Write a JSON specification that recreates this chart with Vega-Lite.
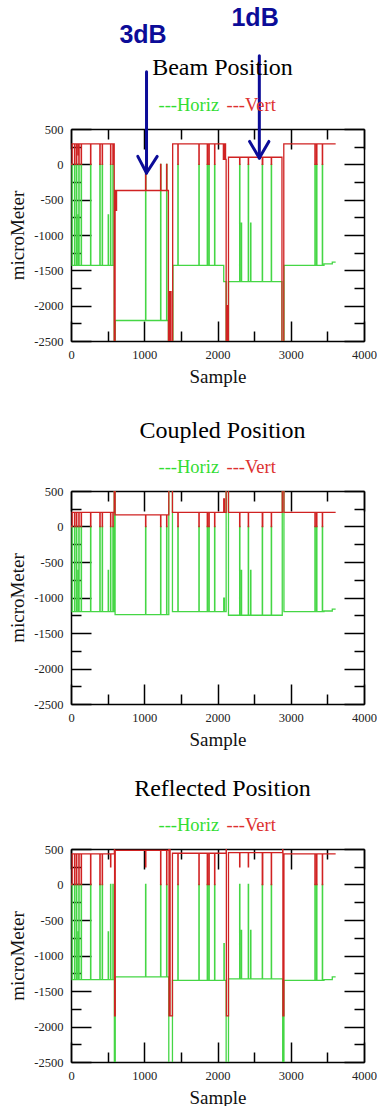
{
"$schema":"https://vega.github.io/schema/vega-lite/v6.json",
"background":"white",
"padding":{"left":8,"top":5,"right":2,"bottom":5},
"autosize":{"type":"pad"},
"spacing":32,
"config":{
 "view":{"stroke":null},
 "font":"Liberation Serif",
 "axis":{"labelFont":"Liberation Serif","labelFontSize":12.5,"labelColor":"#222","titleFont":"Liberation Serif","titleFontSize":19,"titleFontWeight":"normal","titleColor":"#111","domainColor":"black","domainWidth":1.5,"tickColor":"black","tickWidth":1.5,"grid":false,"labelFlush":false,"labelOverlap":false},
 "title":{"font":"Liberation Serif","fontSize":24,"fontWeight":"normal","color":"black","frame":"group","anchor":"middle","dx":5}
},
"datasets":{
"b":[
{"c":"Horiz","s":0,"v":0},{"c":"Horiz","s":16,"v":-1430},{"c":"Horiz","s":48,"v":0},{"c":"Horiz","s":52,"v":-1430},{"c":"Horiz","s":75,"v":0},{"c":"Horiz","s":79,"v":-1430},{"c":"Horiz","s":98,"v":-714},{"c":"Horiz","s":102,"v":-1430},{"c":"Horiz","s":107,"v":0},{"c":"Horiz","s":111,"v":-1430},{"c":"Horiz","s":139,"v":0},{"c":"Horiz","s":143,"v":-1430},{"c":"Horiz","s":267,"v":0},{"c":"Horiz","s":271,"v":-1430},{"c":"Horiz","s":394,"v":0},{"c":"Horiz","s":398,"v":-1430},{"c":"Horiz","s":426,"v":0},{"c":"Horiz","s":430,"v":-1430},{"c":"Horiz","s":508,"v":-714},{"c":"Horiz","s":512,"v":-1430},{"c":"Horiz","s":540,"v":0},{"c":"Horiz","s":544,"v":-1430},{"c":"Horiz","s":572,"v":0},{"c":"Horiz","s":576,"v":-1430},{"c":"Horiz","s":590,"v":-2600},{"c":"Horiz","s":604,"v":-2210},{"c":"Horiz","s":1018,"v":0},{"c":"Horiz","s":1022,"v":-2210},{"c":"Horiz","s":1223,"v":0},{"c":"Horiz","s":1227,"v":-2210},{"c":"Horiz","s":1305,"v":0},{"c":"Horiz","s":1309,"v":-2210},{"c":"Horiz","s":1330,"v":-2600},{"c":"Horiz","s":1392,"v":-1430},{"c":"Horiz","s":1459,"v":0},{"c":"Horiz","s":1463,"v":-1430},{"c":"Horiz","s":1746,"v":0},{"c":"Horiz","s":1750,"v":-1430},{"c":"Horiz","s":1860,"v":0},{"c":"Horiz","s":1864,"v":-1430},{"c":"Horiz","s":1883,"v":0},{"c":"Horiz","s":1887,"v":-1430},{"c":"Horiz","s":1960,"v":0},{"c":"Horiz","s":1964,"v":-1430},{"c":"Horiz","s":2085,"v":-1660},{"c":"Horiz","s":2118,"v":-2600},{"c":"Horiz","s":2150,"v":-1660},{"c":"Horiz","s":2302,"v":0},{"c":"Horiz","s":2306,"v":-1660},{"c":"Horiz","s":2325,"v":-832},{"c":"Horiz","s":2329,"v":-1660},{"c":"Horiz","s":2420,"v":0},{"c":"Horiz","s":2424,"v":-1660},{"c":"Horiz","s":2452,"v":-832},{"c":"Horiz","s":2456,"v":-1660},{"c":"Horiz","s":2611,"v":0},{"c":"Horiz","s":2615,"v":-1660},{"c":"Horiz","s":2734,"v":0},{"c":"Horiz","s":2738,"v":-1660},{"c":"Horiz","s":2880,"v":-2600},{"c":"Horiz","s":2908,"v":-1430},{"c":"Horiz","s":3330,"v":0},{"c":"Horiz","s":3334,"v":-1430},{"c":"Horiz","s":3353,"v":0},{"c":"Horiz","s":3357,"v":-1430},{"c":"Horiz","s":3431,"v":0},{"c":"Horiz","s":3435,"v":-1430},{"c":"Horiz","s":3454,"v":-1410},{"c":"Horiz","s":3567,"v":-1385},{"c":"Horiz","s":3613,"v":-1385},
{"c":"Vert","s":0,"v":0},{"c":"Vert","s":16,"v":290},{"c":"Vert","s":48,"v":0},{"c":"Vert","s":52,"v":290},{"c":"Vert","s":75,"v":0},{"c":"Vert","s":79,"v":290},{"c":"Vert","s":98,"v":135},{"c":"Vert","s":102,"v":290},{"c":"Vert","s":107,"v":0},{"c":"Vert","s":111,"v":290},{"c":"Vert","s":139,"v":0},{"c":"Vert","s":143,"v":290},{"c":"Vert","s":267,"v":0},{"c":"Vert","s":271,"v":290},{"c":"Vert","s":394,"v":0},{"c":"Vert","s":398,"v":290},{"c":"Vert","s":426,"v":0},{"c":"Vert","s":430,"v":290},{"c":"Vert","s":540,"v":0},{"c":"Vert","s":544,"v":290},{"c":"Vert","s":572,"v":0},{"c":"Vert","s":576,"v":290},{"c":"Vert","s":590,"v":-2600},{"c":"Vert","s":602,"v":-370},{"c":"Vert","s":618,"v":-650},{"c":"Vert","s":622,"v":-370},{"c":"Vert","s":1018,"v":0},{"c":"Vert","s":1022,"v":-370},{"c":"Vert","s":1223,"v":0},{"c":"Vert","s":1227,"v":-370},{"c":"Vert","s":1305,"v":0},{"c":"Vert","s":1309,"v":-370},{"c":"Vert","s":1330,"v":-2600},{"c":"Vert","s":1342,"v":-1800},{"c":"Vert","s":1350,"v":-2600},{"c":"Vert","s":1358,"v":-1800},{"c":"Vert","s":1366,"v":-2600},{"c":"Vert","s":1388,"v":290},{"c":"Vert","s":1459,"v":0},{"c":"Vert","s":1463,"v":290},{"c":"Vert","s":1746,"v":0},{"c":"Vert","s":1750,"v":290},{"c":"Vert","s":1860,"v":0},{"c":"Vert","s":1864,"v":290},{"c":"Vert","s":1883,"v":0},{"c":"Vert","s":1887,"v":290},{"c":"Vert","s":1960,"v":0},{"c":"Vert","s":1964,"v":290},{"c":"Vert","s":2080,"v":70},{"c":"Vert","s":2088,"v":290},{"c":"Vert","s":2095,"v":70},{"c":"Vert","s":2103,"v":290},{"c":"Vert","s":2110,"v":70},{"c":"Vert","s":2118,"v":-2600},{"c":"Vert","s":2126,"v":-2000},{"c":"Vert","s":2134,"v":-2600},{"c":"Vert","s":2150,"v":100},{"c":"Vert","s":2302,"v":0},{"c":"Vert","s":2306,"v":100},{"c":"Vert","s":2420,"v":0},{"c":"Vert","s":2424,"v":100},{"c":"Vert","s":2611,"v":0},{"c":"Vert","s":2618,"v":100},{"c":"Vert","s":2734,"v":0},{"c":"Vert","s":2738,"v":100},{"c":"Vert","s":2880,"v":-2600},{"c":"Vert","s":2905,"v":290},{"c":"Vert","s":3330,"v":0},{"c":"Vert","s":3334,"v":290},{"c":"Vert","s":3353,"v":0},{"c":"Vert","s":3357,"v":290},{"c":"Vert","s":3431,"v":0},{"c":"Vert","s":3435,"v":290},{"c":"Vert","s":3613,"v":290}
],
"c":[
{"c":"Horiz","s":0,"v":0},{"c":"Horiz","s":16,"v":-1200},{"c":"Horiz","s":48,"v":0},{"c":"Horiz","s":52,"v":-1200},{"c":"Horiz","s":75,"v":0},{"c":"Horiz","s":79,"v":-1200},{"c":"Horiz","s":98,"v":-618},{"c":"Horiz","s":102,"v":-1200},{"c":"Horiz","s":107,"v":0},{"c":"Horiz","s":111,"v":-1200},{"c":"Horiz","s":139,"v":0},{"c":"Horiz","s":143,"v":-1200},{"c":"Horiz","s":267,"v":0},{"c":"Horiz","s":271,"v":-1200},{"c":"Horiz","s":394,"v":0},{"c":"Horiz","s":398,"v":-1200},{"c":"Horiz","s":426,"v":0},{"c":"Horiz","s":430,"v":-1200},{"c":"Horiz","s":508,"v":-618},{"c":"Horiz","s":512,"v":-1200},{"c":"Horiz","s":540,"v":0},{"c":"Horiz","s":544,"v":-1200},{"c":"Horiz","s":572,"v":0},{"c":"Horiz","s":576,"v":-1200},{"c":"Horiz","s":590,"v":600},{"c":"Horiz","s":602,"v":-1240},{"c":"Horiz","s":1018,"v":0},{"c":"Horiz","s":1022,"v":-1240},{"c":"Horiz","s":1223,"v":0},{"c":"Horiz","s":1227,"v":-1240},{"c":"Horiz","s":1305,"v":0},{"c":"Horiz","s":1309,"v":-1240},{"c":"Horiz","s":1335,"v":600},{"c":"Horiz","s":1385,"v":-1200},{"c":"Horiz","s":1459,"v":0},{"c":"Horiz","s":1463,"v":-1200},{"c":"Horiz","s":1746,"v":0},{"c":"Horiz","s":1750,"v":-1200},{"c":"Horiz","s":1860,"v":0},{"c":"Horiz","s":1864,"v":-1200},{"c":"Horiz","s":1883,"v":0},{"c":"Horiz","s":1887,"v":-1200},{"c":"Horiz","s":1960,"v":0},{"c":"Horiz","s":1964,"v":-1200},{"c":"Horiz","s":2085,"v":-1010},{"c":"Horiz","s":2095,"v":-1200},{"c":"Horiz","s":2118,"v":600},{"c":"Horiz","s":2150,"v":-1250},{"c":"Horiz","s":2302,"v":0},{"c":"Horiz","s":2306,"v":-1250},{"c":"Horiz","s":2325,"v":-618},{"c":"Horiz","s":2329,"v":-1250},{"c":"Horiz","s":2420,"v":0},{"c":"Horiz","s":2424,"v":-1250},{"c":"Horiz","s":2452,"v":-618},{"c":"Horiz","s":2456,"v":-1250},{"c":"Horiz","s":2611,"v":0},{"c":"Horiz","s":2615,"v":-1250},{"c":"Horiz","s":2734,"v":0},{"c":"Horiz","s":2738,"v":-1250},{"c":"Horiz","s":2884,"v":600},{"c":"Horiz","s":2907,"v":-1200},{"c":"Horiz","s":3330,"v":0},{"c":"Horiz","s":3334,"v":-1200},{"c":"Horiz","s":3353,"v":0},{"c":"Horiz","s":3357,"v":-1200},{"c":"Horiz","s":3431,"v":0},{"c":"Horiz","s":3435,"v":-1200},{"c":"Horiz","s":3454,"v":-1190},{"c":"Horiz","s":3567,"v":-1165},{"c":"Horiz","s":3613,"v":-1165},
{"c":"Vert","s":0,"v":0},{"c":"Vert","s":16,"v":200},{"c":"Vert","s":48,"v":0},{"c":"Vert","s":52,"v":200},{"c":"Vert","s":75,"v":0},{"c":"Vert","s":79,"v":200},{"c":"Vert","s":107,"v":0},{"c":"Vert","s":111,"v":200},{"c":"Vert","s":139,"v":0},{"c":"Vert","s":143,"v":200},{"c":"Vert","s":267,"v":0},{"c":"Vert","s":271,"v":200},{"c":"Vert","s":394,"v":0},{"c":"Vert","s":398,"v":200},{"c":"Vert","s":426,"v":0},{"c":"Vert","s":430,"v":200},{"c":"Vert","s":540,"v":0},{"c":"Vert","s":544,"v":200},{"c":"Vert","s":572,"v":0},{"c":"Vert","s":576,"v":200},{"c":"Vert","s":590,"v":600},{"c":"Vert","s":602,"v":165},{"c":"Vert","s":1018,"v":0},{"c":"Vert","s":1022,"v":165},{"c":"Vert","s":1223,"v":0},{"c":"Vert","s":1227,"v":165},{"c":"Vert","s":1305,"v":0},{"c":"Vert","s":1309,"v":165},{"c":"Vert","s":1335,"v":600},{"c":"Vert","s":1385,"v":200},{"c":"Vert","s":1459,"v":0},{"c":"Vert","s":1463,"v":200},{"c":"Vert","s":1746,"v":0},{"c":"Vert","s":1750,"v":200},{"c":"Vert","s":1860,"v":0},{"c":"Vert","s":1864,"v":200},{"c":"Vert","s":1883,"v":0},{"c":"Vert","s":1887,"v":200},{"c":"Vert","s":1960,"v":0},{"c":"Vert","s":1964,"v":200},{"c":"Vert","s":2085,"v":390},{"c":"Vert","s":2095,"v":200},{"c":"Vert","s":2118,"v":600},{"c":"Vert","s":2150,"v":200},{"c":"Vert","s":2302,"v":0},{"c":"Vert","s":2306,"v":200},{"c":"Vert","s":2420,"v":0},{"c":"Vert","s":2424,"v":200},{"c":"Vert","s":2611,"v":0},{"c":"Vert","s":2618,"v":200},{"c":"Vert","s":2734,"v":0},{"c":"Vert","s":2738,"v":200},{"c":"Vert","s":2884,"v":600},{"c":"Vert","s":2907,"v":200},{"c":"Vert","s":3330,"v":0},{"c":"Vert","s":3334,"v":200},{"c":"Vert","s":3353,"v":0},{"c":"Vert","s":3357,"v":200},{"c":"Vert","s":3431,"v":0},{"c":"Vert","s":3435,"v":200},{"c":"Vert","s":3613,"v":200}
],
"r":[
{"c":"Horiz","s":0,"v":0},{"c":"Horiz","s":16,"v":-1340},{"c":"Horiz","s":48,"v":0},{"c":"Horiz","s":52,"v":-1340},{"c":"Horiz","s":75,"v":0},{"c":"Horiz","s":79,"v":-1340},{"c":"Horiz","s":98,"v":-668},{"c":"Horiz","s":102,"v":-1340},{"c":"Horiz","s":107,"v":0},{"c":"Horiz","s":111,"v":-1340},{"c":"Horiz","s":139,"v":0},{"c":"Horiz","s":143,"v":-1340},{"c":"Horiz","s":267,"v":0},{"c":"Horiz","s":271,"v":-1340},{"c":"Horiz","s":394,"v":0},{"c":"Horiz","s":398,"v":-1340},{"c":"Horiz","s":426,"v":0},{"c":"Horiz","s":430,"v":-1340},{"c":"Horiz","s":508,"v":-668},{"c":"Horiz","s":512,"v":-1340},{"c":"Horiz","s":540,"v":0},{"c":"Horiz","s":544,"v":-1340},{"c":"Horiz","s":572,"v":0},{"c":"Horiz","s":576,"v":-1340},{"c":"Horiz","s":592,"v":-2600},{"c":"Horiz","s":604,"v":-1300},{"c":"Horiz","s":1018,"v":0},{"c":"Horiz","s":1022,"v":-1300},{"c":"Horiz","s":1223,"v":0},{"c":"Horiz","s":1227,"v":-1300},{"c":"Horiz","s":1305,"v":0},{"c":"Horiz","s":1309,"v":-1300},{"c":"Horiz","s":1335,"v":-2600},{"c":"Horiz","s":1385,"v":-1350},{"c":"Horiz","s":1459,"v":0},{"c":"Horiz","s":1463,"v":-1350},{"c":"Horiz","s":1746,"v":0},{"c":"Horiz","s":1750,"v":-1350},{"c":"Horiz","s":1860,"v":0},{"c":"Horiz","s":1864,"v":-1350},{"c":"Horiz","s":1883,"v":0},{"c":"Horiz","s":1887,"v":-1350},{"c":"Horiz","s":1960,"v":0},{"c":"Horiz","s":1964,"v":-1350},{"c":"Horiz","s":2088,"v":-832},{"c":"Horiz","s":2092,"v":-1350},{"c":"Horiz","s":2118,"v":-2600},{"c":"Horiz","s":2150,"v":-1330},{"c":"Horiz","s":2302,"v":0},{"c":"Horiz","s":2306,"v":-1330},{"c":"Horiz","s":2325,"v":-645},{"c":"Horiz","s":2329,"v":-1330},{"c":"Horiz","s":2420,"v":0},{"c":"Horiz","s":2424,"v":-1330},{"c":"Horiz","s":2452,"v":-645},{"c":"Horiz","s":2456,"v":-1330},{"c":"Horiz","s":2611,"v":0},{"c":"Horiz","s":2615,"v":-1330},{"c":"Horiz","s":2734,"v":0},{"c":"Horiz","s":2738,"v":-1330},{"c":"Horiz","s":2890,"v":-2600},{"c":"Horiz","s":2907,"v":-1350},{"c":"Horiz","s":3330,"v":0},{"c":"Horiz","s":3334,"v":-1350},{"c":"Horiz","s":3353,"v":0},{"c":"Horiz","s":3357,"v":-1350},{"c":"Horiz","s":3431,"v":0},{"c":"Horiz","s":3435,"v":-1350},{"c":"Horiz","s":3454,"v":-1340},{"c":"Horiz","s":3567,"v":-1300},{"c":"Horiz","s":3613,"v":-1300},
{"c":"Vert","s":0,"v":0},{"c":"Vert","s":16,"v":430},{"c":"Vert","s":48,"v":0},{"c":"Vert","s":52,"v":430},{"c":"Vert","s":75,"v":0},{"c":"Vert","s":79,"v":430},{"c":"Vert","s":107,"v":0},{"c":"Vert","s":111,"v":430},{"c":"Vert","s":139,"v":0},{"c":"Vert","s":143,"v":430},{"c":"Vert","s":267,"v":0},{"c":"Vert","s":271,"v":430},{"c":"Vert","s":394,"v":0},{"c":"Vert","s":398,"v":430},{"c":"Vert","s":426,"v":0},{"c":"Vert","s":430,"v":430},{"c":"Vert","s":540,"v":250},{"c":"Vert","s":544,"v":430},{"c":"Vert","s":592,"v":600},{"c":"Vert","s":595,"v":-1850},{"c":"Vert","s":604,"v":480},{"c":"Vert","s":1018,"v":250},{"c":"Vert","s":1022,"v":480},{"c":"Vert","s":1223,"v":0},{"c":"Vert","s":1227,"v":480},{"c":"Vert","s":1305,"v":0},{"c":"Vert","s":1309,"v":480},{"c":"Vert","s":1335,"v":600},{"c":"Vert","s":1338,"v":-1850},{"c":"Vert","s":1350,"v":600},{"c":"Vert","s":1353,"v":-1850},{"c":"Vert","s":1385,"v":440},{"c":"Vert","s":1459,"v":0},{"c":"Vert","s":1463,"v":440},{"c":"Vert","s":1746,"v":0},{"c":"Vert","s":1750,"v":440},{"c":"Vert","s":1860,"v":0},{"c":"Vert","s":1864,"v":440},{"c":"Vert","s":1883,"v":0},{"c":"Vert","s":1887,"v":440},{"c":"Vert","s":1960,"v":0},{"c":"Vert","s":1964,"v":440},{"c":"Vert","s":2118,"v":600},{"c":"Vert","s":2121,"v":-1850},{"c":"Vert","s":2150,"v":450},{"c":"Vert","s":2302,"v":250},{"c":"Vert","s":2306,"v":450},{"c":"Vert","s":2420,"v":250},{"c":"Vert","s":2424,"v":450},{"c":"Vert","s":2611,"v":0},{"c":"Vert","s":2618,"v":450},{"c":"Vert","s":2734,"v":0},{"c":"Vert","s":2738,"v":450},{"c":"Vert","s":2890,"v":600},{"c":"Vert","s":2893,"v":-1850},{"c":"Vert","s":2907,"v":430},{"c":"Vert","s":3330,"v":0},{"c":"Vert","s":3334,"v":430},{"c":"Vert","s":3353,"v":0},{"c":"Vert","s":3357,"v":430},{"c":"Vert","s":3431,"v":0},{"c":"Vert","s":3435,"v":430},{"c":"Vert","s":3613,"v":430}
]
},
"resolve":{"legend":{"color":"independent"}},
"vconcat":[
{
 "data":{"name":"b"},"width":293,"height":212,
 "title":{"text":"Beam Position","offset":-74},
 "resolve":{"axis":{"x":"independent","y":"independent"}},
 "layer":[
  {"mark":{"type":"line","interpolate":"step-after","clip":true,"strokeWidth":1.3},
   "encoding":{
    "x":{"field":"s","type":"quantitative","scale":{"domain":[0,4000],"nice":false,"zero":false},"axis":{"orient":"bottom","values":[0,1000,2000,3000,4000],"tickSize":-20,"labelPadding":27,"labelExpr":"'' + datum.value","title":"Sample","titlePadding":7}},
    "y":{"field":"v","type":"quantitative","scale":{"domain":[-2500,500],"nice":false,"zero":false},"axis":{"orient":"left","values":[-2500,-2000,-1500,-1000,-500,0,500],"tickSize":-20,"labelPadding":28,"labelExpr":"'' + datum.value","title":"microMeter","titlePadding":6}},
    "color":{"field":"c","type":"nominal","scale":{"domain":["Horiz","Vert"],"range":["#45d645","#d02222"]},"legend":{"orient":"none","legendX":87,"legendY":-33,"direction":"horizontal","title":null,"labelExpr":"'---' + datum.label","labelFont":"Liberation Serif","labelFontSize":18.5,"symbolOpacity":0,"symbolSize":0,"symbolStrokeWidth":0,"labelOffset":-18,"columnPadding":6,"padding":0,"encode":{"labels":{"update":{"fill":{"signal":"datum.value === 'Horiz' ? '#33dd33' : '#dd3030'"}}}}}}
   }},
  {"data":{"values":[{"s":0,"v":0}]},"mark":{"type":"point","opacity":0},
   "encoding":{
    "x":{"field":"s","type":"quantitative","scale":{"domain":[0,4000],"nice":false,"zero":false},"axis":{"orient":"bottom","values":[500,1500,2500,3500],"tickSize":-10,"labels":false,"domain":false,"title":null}},
    "y":{"field":"v","type":"quantitative","scale":{"domain":[-2500,500],"nice":false,"zero":false},"axis":{"orient":"left","values":[-2250,-1750,-1250,-750,-250,250],"tickSize":-10,"labels":false,"domain":false,"title":null}}}},
  {"data":{"values":[{"s":0,"v":0}]},"mark":{"type":"point","opacity":0},
   "encoding":{
    "x":{"field":"s","type":"quantitative","scale":{"domain":[0,4000],"nice":false,"zero":false},"axis":{"orient":"top","values":[0,1000,2000,3000,4000],"tickSize":-20,"labels":false,"title":null}},
    "y":{"field":"v","type":"quantitative","scale":{"domain":[-2500,500],"nice":false,"zero":false},"axis":{"orient":"right","values":[-2500,-2000,-1500,-1000,-500,0,500],"tickSize":-20,"labels":false,"title":null}}}},
  {"data":{"values":[{"s":0,"v":0}]},"mark":{"type":"point","opacity":0},
   "encoding":{
    "x":{"field":"s","type":"quantitative","scale":{"domain":[0,4000],"nice":false,"zero":false},"axis":{"orient":"top","values":[500,1500,2500,3500],"tickSize":-10,"labels":false,"domain":false,"title":null}},
    "y":{"field":"v","type":"quantitative","scale":{"domain":[-2500,500],"nice":false,"zero":false},"axis":{"orient":"right","values":[-2250,-1750,-1250,-750,-250,250],"tickSize":-10,"labels":false,"domain":false,"title":null}}}},
  {"data":{"values":[{"s":1031,"v":1311,"s2":1031,"v2":-123},{"s":912,"v":112,"s2":1031,"v2":-123},{"s":1177,"v":112,"s2":1031,"v2":-123},{"s":2571,"v":1538,"s2":2571,"v2":89},{"s":2438,"v":324,"s2":2571,"v2":89},{"s":2702,"v":324,"s2":2571,"v2":89}]},
   "mark":{"type":"rule","color":"#0c0c98","strokeWidth":3,"strokeCap":"round"},
   "encoding":{
    "x":{"field":"s","type":"quantitative","scale":{"domain":[0,4000],"nice":false,"zero":false},"axis":null},
    "y":{"field":"v","type":"quantitative","scale":{"domain":[-2500,500],"nice":false,"zero":false},"axis":null},
    "x2":{"field":"s2"},"y2":{"field":"v2"}}},
  {"data":{"values":[{"t":"3dB","s":983,"v":1835},{"t":"1dB","s":2513,"v":2076}]},
   "mark":{"type":"text","font":"Liberation Sans","fontWeight":"bold","fontSize":25,"color":"#0c0c98","baseline":"middle","align":"center"},
   "encoding":{
    "x":{"field":"s","type":"quantitative","scale":{"domain":[0,4000],"nice":false,"zero":false},"axis":null},
    "y":{"field":"v","type":"quantitative","scale":{"domain":[-2500,500],"nice":false,"zero":false},"axis":null},
    "text":{"field":"t"}}}
 ]
},
{
 "spacing":27,
 "resolve":{"legend":{"color":"independent"}},
 "vconcat":[
{
 "data":{"name":"c"},"width":293,"height":213,
 "title":{"text":"Coupled Position","offset":15},
 "resolve":{"axis":{"x":"independent","y":"independent"}},
 "layer":[
  {"mark":{"type":"line","interpolate":"step-after","clip":true,"strokeWidth":1.3},
   "encoding":{
    "x":{"field":"s","type":"quantitative","scale":{"domain":[0,4000],"nice":false,"zero":false},"axis":{"orient":"bottom","values":[0,1000,2000,3000,4000],"tickSize":-20,"labelPadding":27,"labelExpr":"'' + datum.value","title":"Sample","titlePadding":7}},
    "y":{"field":"v","type":"quantitative","scale":{"domain":[-2500,500],"nice":false,"zero":false},"axis":{"orient":"left","values":[-2500,-2000,-1500,-1000,-500,0,500],"tickSize":-20,"labelPadding":28,"labelExpr":"'' + datum.value","title":"microMeter","titlePadding":6}},
    "color":{"field":"c","type":"nominal","scale":{"domain":["Horiz","Vert"],"range":["#45d645","#d02222"]},"legend":{"orient":"none","legendX":87,"legendY":-33,"direction":"horizontal","title":null,"labelExpr":"'---' + datum.label","labelFont":"Liberation Serif","labelFontSize":18.5,"symbolOpacity":0,"symbolSize":0,"symbolStrokeWidth":0,"labelOffset":-18,"columnPadding":6,"padding":0,"encode":{"labels":{"update":{"fill":{"signal":"datum.value === 'Horiz' ? '#33dd33' : '#dd3030'"}}}}}}
   }},
  {"data":{"values":[{"s":0,"v":0}]},"mark":{"type":"point","opacity":0},
   "encoding":{
    "x":{"field":"s","type":"quantitative","scale":{"domain":[0,4000],"nice":false,"zero":false},"axis":{"orient":"bottom","values":[500,1500,2500,3500],"tickSize":-10,"labels":false,"domain":false,"title":null}},
    "y":{"field":"v","type":"quantitative","scale":{"domain":[-2500,500],"nice":false,"zero":false},"axis":{"orient":"left","values":[-2250,-1750,-1250,-750,-250,250],"tickSize":-10,"labels":false,"domain":false,"title":null}}}},
  {"data":{"values":[{"s":0,"v":0}]},"mark":{"type":"point","opacity":0},
   "encoding":{
    "x":{"field":"s","type":"quantitative","scale":{"domain":[0,4000],"nice":false,"zero":false},"axis":{"orient":"top","values":[0,1000,2000,3000,4000],"tickSize":-20,"labels":false,"title":null}},
    "y":{"field":"v","type":"quantitative","scale":{"domain":[-2500,500],"nice":false,"zero":false},"axis":{"orient":"right","values":[-2500,-2000,-1500,-1000,-500,0,500],"tickSize":-20,"labels":false,"title":null}}}},
  {"data":{"values":[{"s":0,"v":0}]},"mark":{"type":"point","opacity":0},
   "encoding":{
    "x":{"field":"s","type":"quantitative","scale":{"domain":[0,4000],"nice":false,"zero":false},"axis":{"orient":"top","values":[500,1500,2500,3500],"tickSize":-10,"labels":false,"domain":false,"title":null}},
    "y":{"field":"v","type":"quantitative","scale":{"domain":[-2500,500],"nice":false,"zero":false},"axis":{"orient":"right","values":[-2250,-1750,-1250,-750,-250,250],"tickSize":-10,"labels":false,"domain":false,"title":null}}}}
 ]
},
{
 "data":{"name":"r"},"width":293,"height":213,
 "title":{"text":"Reflected Position","offset":15},
 "resolve":{"axis":{"x":"independent","y":"independent"}},
 "layer":[
  {"mark":{"type":"line","interpolate":"step-after","clip":true,"strokeWidth":1.3},
   "encoding":{
    "x":{"field":"s","type":"quantitative","scale":{"domain":[0,4000],"nice":false,"zero":false},"axis":{"orient":"bottom","values":[0,1000,2000,3000,4000],"tickSize":-20,"labelPadding":27,"labelExpr":"'' + datum.value","title":"Sample","titlePadding":7}},
    "y":{"field":"v","type":"quantitative","scale":{"domain":[-2500,500],"nice":false,"zero":false},"axis":{"orient":"left","values":[-2500,-2000,-1500,-1000,-500,0,500],"tickSize":-20,"labelPadding":28,"labelExpr":"'' + datum.value","title":"microMeter","titlePadding":6}},
    "color":{"field":"c","type":"nominal","scale":{"domain":["Horiz","Vert"],"range":["#45d645","#d02222"]},"legend":{"orient":"none","legendX":87,"legendY":-33,"direction":"horizontal","title":null,"labelExpr":"'---' + datum.label","labelFont":"Liberation Serif","labelFontSize":18.5,"symbolOpacity":0,"symbolSize":0,"symbolStrokeWidth":0,"labelOffset":-18,"columnPadding":6,"padding":0,"encode":{"labels":{"update":{"fill":{"signal":"datum.value === 'Horiz' ? '#33dd33' : '#dd3030'"}}}}}}
   }},
  {"data":{"values":[{"s":0,"v":0}]},"mark":{"type":"point","opacity":0},
   "encoding":{
    "x":{"field":"s","type":"quantitative","scale":{"domain":[0,4000],"nice":false,"zero":false},"axis":{"orient":"bottom","values":[500,1500,2500,3500],"tickSize":-10,"labels":false,"domain":false,"title":null}},
    "y":{"field":"v","type":"quantitative","scale":{"domain":[-2500,500],"nice":false,"zero":false},"axis":{"orient":"left","values":[-2250,-1750,-1250,-750,-250,250],"tickSize":-10,"labels":false,"domain":false,"title":null}}}},
  {"data":{"values":[{"s":0,"v":0}]},"mark":{"type":"point","opacity":0},
   "encoding":{
    "x":{"field":"s","type":"quantitative","scale":{"domain":[0,4000],"nice":false,"zero":false},"axis":{"orient":"top","values":[0,1000,2000,3000,4000],"tickSize":-20,"labels":false,"title":null}},
    "y":{"field":"v","type":"quantitative","scale":{"domain":[-2500,500],"nice":false,"zero":false},"axis":{"orient":"right","values":[-2500,-2000,-1500,-1000,-500,0,500],"tickSize":-20,"labels":false,"title":null}}}},
  {"data":{"values":[{"s":0,"v":0}]},"mark":{"type":"point","opacity":0},
   "encoding":{
    "x":{"field":"s","type":"quantitative","scale":{"domain":[0,4000],"nice":false,"zero":false},"axis":{"orient":"top","values":[500,1500,2500,3500],"tickSize":-10,"labels":false,"domain":false,"title":null}},
    "y":{"field":"v","type":"quantitative","scale":{"domain":[-2500,500],"nice":false,"zero":false},"axis":{"orient":"right","values":[-2250,-1750,-1250,-750,-250,250],"tickSize":-10,"labels":false,"domain":false,"title":null}}}}
 ]
}
 ]
}
]
}
